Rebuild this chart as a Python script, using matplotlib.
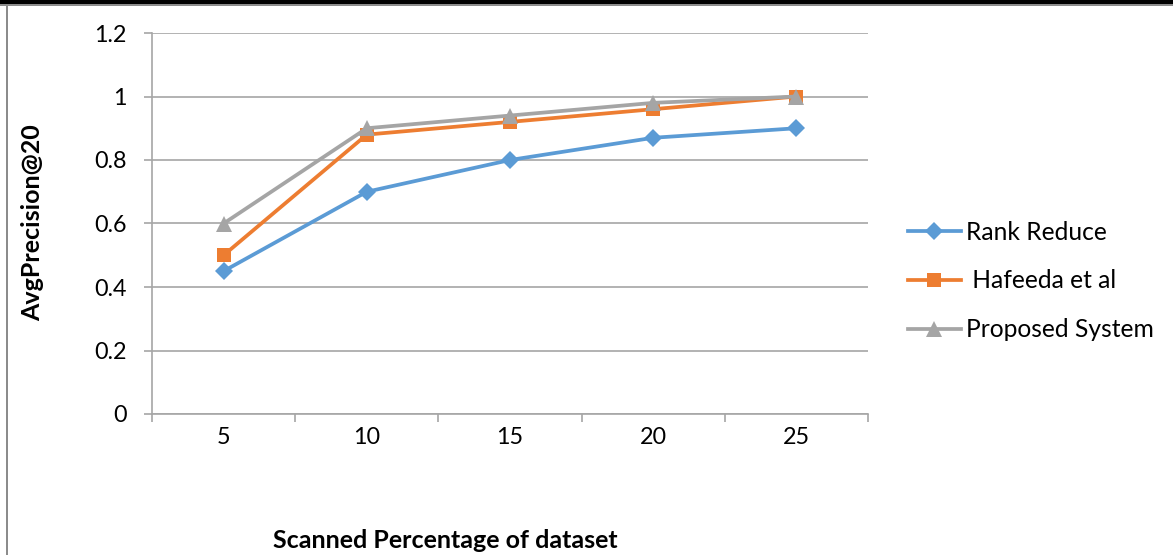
import numpy as np
import matplotlib
matplotlib.use('Agg')
import matplotlib.pyplot as plt
from matplotlib.patches import Rectangle

# --- data ---
categories = ['5', '10', '15', '20', '25']
rank_reduce = [0.45, 0.70, 0.80, 0.87, 0.90]
hafeeda = [0.50, 0.88, 0.92, 0.96, 1.00]
proposed = [0.60, 0.90, 0.94, 0.98, 1.00]

series = [
    ('Rank Reduce', rank_reduce, '#5B9BD5', 'D', 9),
    (' Hafeeda et al', hafeeda, '#ED7D31', 's', 10.5),
    ('Proposed System', proposed, '#A5A5A5', '^', 11),
]

plt.rcParams['font.family'] = ['Lato', 'DejaVu Sans']

W, H = 1173, 555
fig = plt.figure(figsize=(W / 100, H / 100), dpi=100)
ax = fig.add_axes([152 / W, 1 - 414 / H, (868 - 152) / W, (414 - 33) / H])

x = np.arange(len(categories))
for name, vals, col, mk, ms in series:
    ax.plot(x, vals, color=col, lw=2.7, marker=mk, markersize=ms,
            markeredgewidth=0, label=name, zorder=3)

ax.set_xlim(-0.5, len(categories) - 0.5)
ax.set_ylim(0, 1.2)
ax.set_yticks(np.arange(0, 1.21, 0.2))
ax.set_yticklabels(['0', '0.2', '0.4', '0.6', '0.8', '1', '1.2'])
ax.set_xticks(x)
ax.set_xticklabels(categories)
ax.set_xticks(np.arange(-0.5, len(categories), 1.0), minor=True)

grid_col = '#A6A6A6'
ax.yaxis.grid(True, color=grid_col, lw=1.2)
ax.set_axisbelow(True)
for s in ['top', 'right']:
    ax.spines[s].set_visible(False)
for s in ['left', 'bottom']:
    ax.spines[s].set_color(grid_col)
    ax.spines[s].set_linewidth(1.2)

ax.tick_params(axis='x', which='major', length=0, pad=9, labelsize=16.8)
ax.tick_params(axis='x', which='minor', length=6, color=grid_col, width=1.2)
ax.tick_params(axis='y', length=6, color=grid_col, width=1.2, pad=12, labelsize=16.8)

fig.text(33 / W, 1 - 223 / H, 'AvgPrecision@20', rotation=90, ha='center',
         va='center', fontsize=18, fontweight='bold')
fig.text(445 / W, 1 - 540 / H, 'Scanned Percentage of dataset', ha='center',
         va='center', fontsize=18, fontweight='bold')

ax.legend(loc='center left', bbox_to_anchor=(908 / W, 1 - 281 / H),
          bbox_transform=fig.transFigure, frameon=False, fontsize=17.7,
          handlelength=2.15, handletextpad=0.2, labelspacing=1.05,
          borderaxespad=0, borderpad=0)

# page border
fig.add_artist(Rectangle((0, 1 - 4 / H), 1, 4 / H, transform=fig.transFigure,
                         color='black', lw=0))
fig.add_artist(Rectangle((0, 1 - 6 / H), 1, 2 / H, transform=fig.transFigure,
                         color='#8C8C8C', lw=0))
fig.add_artist(Rectangle((6 / W, 0), 2 / W, 1 - 6 / H, transform=fig.transFigure,
                         color='#8C8C8C', lw=0))

fig.savefig('out.png', dpi=100)
